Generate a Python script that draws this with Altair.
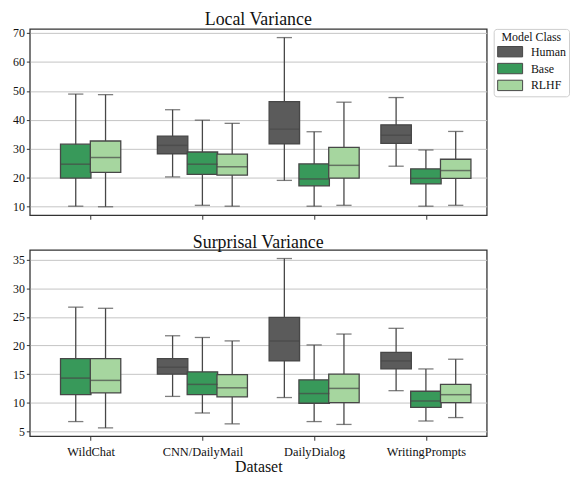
import json
import altair as alt
import pandas as pd

datasets = ["WildChat", "CNN/DailyMail", "DailyDialog", "WritingPrompts"]
models = ["Human", "Base", "RLHF"]
colors = ["#5b5b5b", "#38995a", "#a6d69f"]

row_dataset = ["WildChat", "WildChat",
               "CNN/DailyMail", "CNN/DailyMail", "CNN/DailyMail",
               "DailyDialog", "DailyDialog", "DailyDialog",
               "WritingPrompts", "WritingPrompts", "WritingPrompts"]
row_model = ["Base", "RLHF",
             "Human", "Base", "RLHF",
             "Human", "Base", "RLHF",
             "Human", "Base", "RLHF"]

# Local Variance
local_lo = [10.2, 10.0, 20.3, 10.5, 10.2, 19.1, 10.2, 10.5, 24.0, 10.2, 10.5]
local_q1 = [19.9, 21.9, 28.3, 21.2, 20.9, 31.7, 17.2, 19.9, 31.9, 17.9, 19.8]
local_med = [24.7, 27.0, 31.2, 24.7, 23.8, 36.8, 19.6, 24.3, 34.7, 19.8, 22.5]
local_q3 = [31.6, 32.7, 34.4, 28.9, 28.2, 46.3, 24.8, 30.5, 38.3, 23.1, 26.4]
local_hi = [48.9, 48.7, 43.5, 39.9, 38.8, 68.4, 35.9, 46.1, 47.7, 29.6, 36.0]

# Surprisal Variance
surp_lo = [6.7, 5.6, 11.1, 8.2, 6.3, 10.9, 6.7, 6.2, 12.1, 6.8, 7.4]
surp_q1 = [11.4, 11.7, 15.0, 11.4, 11.0, 17.3, 9.9, 10.0, 15.9, 9.2, 10.0]
surp_med = [14.3, 13.9, 16.2, 13.2, 12.6, 20.8, 11.6, 12.5, 17.3, 10.3, 11.4]
surp_q3 = [17.7, 17.7, 17.7, 15.4, 14.9, 24.9, 14.0, 15.0, 18.8, 12.0, 13.2]
surp_hi = [26.7, 26.5, 21.7, 21.4, 20.8, 35.2, 20.1, 22.0, 23.0, 15.9, 17.6]

# hue slot within each dataset (present hue levels centred, as seaborn does)
slots = []
for d, m in zip(row_dataset, row_model):
    present = [mm for dd, mm in zip(row_dataset, row_model) if dd == d]
    k = present.index(m)
    slots.append(k - (len(present) - 1) / 2)

def frame(lo, q1, med, q3, hi):
    return pd.DataFrame({
        "dataset": row_dataset, "model": row_model, "slot": slots,
        "lo": lo, "q1": q1, "med": med, "q3": q3, "hi": hi,
    })

SERIF = "Liberation Serif"
LINE = "#474747"
PW = 461
PH = 188
BOXW = PW / 4 * 0.8 / 3
CAPW = BOXW / 2

label_expr = json.dumps(datasets) + "[datum.value]"

def panel(df, title, ydomain, yvalues, show_labels):
    base = alt.Chart(df).transform_calculate(
        pos="indexof(" + json.dumps(datasets) + ", datum.dataset) + datum.slot * 0.8 / 3"
    )
    x = alt.X("pos:Q",
              scale=alt.Scale(domain=[-0.5, 3.5], nice=False, zero=False),
              axis=alt.Axis(values=[0, 1, 2, 3], labelExpr=label_expr if show_labels else "''",
                            grid=False, domain=False, tickColor="#333", tickSize=4,
                            labels=show_labels, labelFont=SERIF, labelFontSize=12.5,
                            labelColor="#111", labelPadding=5, labelOverlap=False,
                            title="Dataset" if show_labels else None,
                            titleFont=SERIF, titleFontSize=16, titleFontWeight="normal",
                            titleColor="#111", titlePadding=1))
    yscale = alt.Scale(domain=ydomain, nice=False, zero=False)
    yaxis = alt.Axis(values=yvalues, grid=True, gridColor="#c4c4c4", gridWidth=1,
                     domain=False, tickColor="#333", tickSize=3.5,
                     labelFont=SERIF, labelFontSize=12, labelColor="#111",
                     labelPadding=2, labelOverlap=False, labelBound=False, title=None)
    color = alt.Color("model:N", scale=alt.Scale(domain=models, range=colors),
                      legend=alt.Legend(title="Model Class"))

    def Y(field):
        return alt.Y(field, scale=yscale, axis=yaxis)

    whisk = base.mark_rule(color=LINE, strokeWidth=1.3).encode(
        x=x, y=Y("lo:Q"), y2="hi:Q")
    cap_lo = base.mark_tick(orient="horizontal", size=CAPW, thickness=1.3, color=LINE).encode(
        x=x, y=Y("lo:Q"))
    cap_hi = base.mark_tick(orient="horizontal", size=CAPW, thickness=1.3, color=LINE).encode(
        x=x, y=Y("hi:Q"))
    box = base.mark_bar(size=BOXW, stroke=LINE, strokeWidth=1.3, opacity=1).encode(
        x=x, y=Y("q1:Q"), y2="q3:Q", color=color)
    median = base.mark_tick(orient="horizontal", size=BOXW, thickness=1.5, color=LINE).encode(
        x=x, y=Y("med:Q"))
    return alt.layer(whisk, cap_lo, cap_hi, box, median).properties(
        width=PW, height=PH,
        title=alt.TitleParams(title, font=SERIF, fontSize=18, fontWeight="normal",
                              color="#111", offset=-2))

top = panel(frame(local_lo, local_q1, local_med, local_q3, local_hi),
            "Local Variance", [7.07, 71.4], [10, 20, 30, 40, 50, 60, 70], False)
bottom = panel(frame(surp_lo, surp_q1, surp_med, surp_q3, surp_hi),
               "Surprisal Variance", [4.13, 36.7], [5, 10, 15, 20, 25, 30, 35], True)

chart = alt.vconcat(top, bottom, spacing=12).properties(
    padding={"left": 3, "top": 0, "right": 0, "bottom": 0}
).configure_axis(
    labelOverlap=False
).configure_view(
    stroke="#333", strokeWidth=1.3
).configure_legend(
    orient="right", offset=6, padding=3,
    strokeColor="#cccccc", cornerRadius=3, fillColor="white",
    titleFont=SERIF, titleFontSize=12, titleFontWeight="normal", titleColor="#111",
    titleAnchor="middle",
    labelFont=SERIF, labelFontSize=12, labelColor="#111", labelOffset=15,
    symbolType="M-2.4,-1L2.4,-1L2.4,1L-2.4,1Z", symbolSize=110, symbolOffset=7.6,
    symbolStrokeColor=LINE, symbolStrokeWidth=1, symbolOpacity=1,
    rowPadding=1, titlePadding=2
)

chart.save("out.html", embed_options={"renderer": "svg", "actions": False})
